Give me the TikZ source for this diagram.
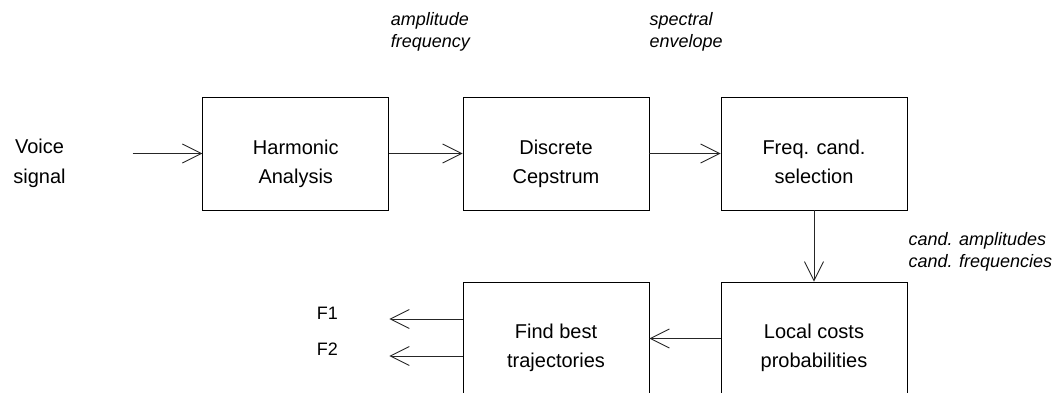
\documentclass[tikz,border=0pt]{standalone}
\usepackage{fontspec}
\setmainfont{Liberation Sans}
\usetikzlibrary{arrows.meta}
% fixed first-line height so text tops can be placed from baselines
\newcommand\bigstrut{\vrule height 15pt width 0pt\relax}
\newcommand\smallstrut{\vrule height 14pt width 0pt\relax}
\begin{document}
\begin{tikzpicture}[x=1pt,y=-1pt,
  block/.style={draw=black, line width=0.9pt, minimum width=186pt, minimum height=113pt, inner sep=0pt},
  blocktext/.style={anchor=north, align=center, inner sep=0pt, font=\fontsize{20}{29.3}\selectfont},
  note/.style={anchor=north west, align=left, inner sep=0pt, font=\fontsize{18}{22}\selectfont\itshape},
  outlabel/.style={anchor=base west, inner sep=0pt, font=\fontsize{18}{20}\selectfont},
  flow/.style={draw=black!85, line width=0.9pt, -{Straight Barb[length=19pt,width=19pt]}},
]
\useasboundingbox (0,0) rectangle (1057,392);

% processing blocks
\node[block] (harm) at (295.75,153.5) {};
\node[block] (cep)  at (556,153.5) {};
\node[block] (sel)  at (814,153.5) {};
\node[block] (traj) at (556,338.5) {};
\node[block] (cost) at (814,338.5) {};

% block captions
\node[blocktext] (voicelbl) at (39.5,138.5) {\bigstrut Voice\\signal};
\node[blocktext] (harmlbl) at (295.75,139) {\bigstrut Harmonic\\Analysis};
\node[blocktext] (ceplbl)  at (556,139) {\bigstrut Discrete\\Cepstrum};
\node[blocktext] (sellbl)  at (814,139) {\bigstrut Freq. cand.\\selection};
\node[blocktext] (trajlbl) at (556,323.3) {\bigstrut Find best\\trajectories};
\node[blocktext] (costlbl) at (814,323.3) {\bigstrut Local costs\\probabilities};

% data annotations
\node[note] (n1) at (390.7,11) {\smallstrut amplitude\\frequency};
\node[note] (n2) at (649.3,11) {\smallstrut spectral\\envelope};
\node[note] (n3) at (908.3,231) {\smallstrut cand. amplitudes\\cand. frequencies};

% outputs
\node[outlabel] (f1) at (316.7,319) {F1};
\node[outlabel] (f2) at (316.7,355.7) {F2};

% signal flow
\coordinate (vin) at (132.7,153.5);
\coordinate (f1end) at (389.3,319);
\coordinate (f2end) at (389.3,356);
\draw[flow] (vin) -- (harm);
\draw[flow] (harm) -- (cep);
\draw[flow] (cep) -- (sel);
\draw[flow] (sel) -- (cost);
\draw[flow] (cost) -- (traj);
\draw[flow] (traj.west |- f1end) -- (f1end);
\draw[flow] (traj.west |- f2end) -- (f2end);
\end{tikzpicture}
\end{document}
